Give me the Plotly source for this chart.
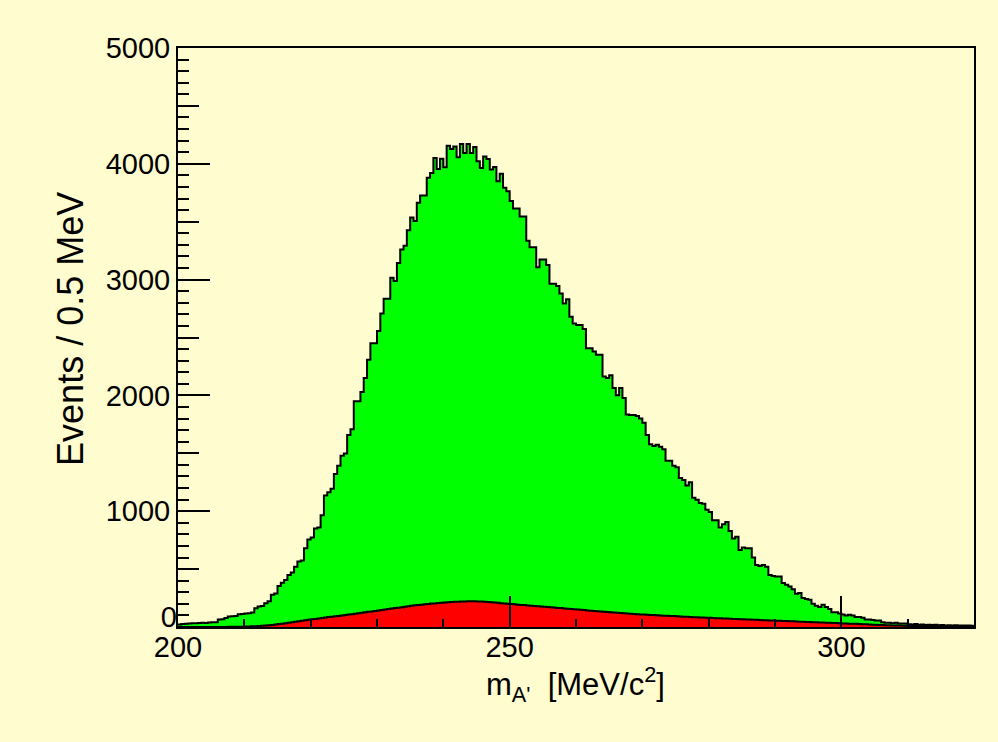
import plotly.graph_objects as go

# ---------------- data ----------------
bin_low = 200.0
bin_width = 0.5

# total (green) histogram, events per 0.5 MeV bin, 200-320 MeV
total = [
    22, 25, 28, 30, 33, 32, 35, 36, 34, 38, 40, 42,
    64, 66, 78, 90, 92, 95, 110, 113, 116, 118, 125, 162,
    178, 182, 205, 222, 278, 290, 355, 382, 405, 450, 470, 520,
    565, 575, 680, 756, 773, 850, 860, 964, 1136, 1164, 1193, 1321,
    1393, 1479, 1498, 1658, 1707, 1950, 1950, 2030, 2150, 2307, 2450, 2450,
    2556, 2707, 2835, 2835, 3015, 2987, 3144, 3259, 3293, 3427, 3536, 3507,
    3664, 3727, 3727, 3879, 3921, 4050, 3956, 4044, 3970, 4155, 4127, 4150,
    4056, 4170, 4093, 4170, 4093, 4144, 4021, 3964, 4064, 4041, 3950, 3973,
    3850, 3915, 3793, 3764, 3679, 3613, 3613, 3544, 3544, 3336, 3279, 3279,
    3107, 3173, 3173, 3127, 2964, 2964, 2944, 2879, 2793, 2830, 2679, 2621,
    2607, 2607, 2573, 2407, 2407, 2379, 2350, 2350, 2164, 2150, 2173, 2064,
    2001, 2064, 1978, 1836, 1830, 1830, 1822, 1801, 1764, 1659, 1579, 1564,
    1573, 1556, 1536, 1436, 1436, 1393, 1379, 1287, 1270, 1221, 1250, 1116,
    1099, 1070, 1064, 1013, 993, 921, 921, 859, 887, 907, 830, 764,
    779, 664, 687, 679, 679, 601, 536, 527, 536, 521, 450, 441,
    436, 436, 379, 364, 350, 327, 287, 293, 250, 242, 236, 201,
    184, 173, 193, 173, 156, 127, 127, 116, 107, 99, 105, 99,
    87, 87, 79, 64, 64, 60, 56, 56, 41, 36, 36, 33,
    36, 30, 30, 30, 24, 22, 25, 20, 22, 18, 20, 17,
    19, 15, 18, 14, 16, 13, 15, 12, 14, 12, 13, 11,
]

# background (red) histogram, events per 0.5 MeV bin
background = [
    0, 0, 0, 0, 0, 0, 0, 0, 0, 0, 0, 0, 1, 1, 1, 2, 2, 2, 3, 3,
    4, 5, 6, 7, 9, 11, 13, 15, 18, 21,
    25, 29, 33, 37, 41, 45, 50, 54, 58, 62,
    66, 70, 74, 78, 82, 86, 89, 93, 96, 99,
    103, 107, 111, 115, 119, 123, 127, 131, 134, 138,
    142, 146, 151, 155, 159, 163, 167, 171, 175, 180,
    184, 187, 190, 193, 196, 199, 202, 204, 207, 209,
    211, 213, 215, 217, 219, 220, 221, 222, 222, 222,
    221, 220, 218, 216, 214, 212, 209, 206, 203, 200,
    198, 196, 193, 191, 189, 186, 184, 182, 179, 177,
    175, 172, 170, 168, 165, 163, 160, 158, 155, 153,
    151, 148, 146, 143, 141, 138, 136, 133, 131, 129,
    127, 125, 123, 121, 119, 117, 115, 113, 111, 109,
    107, 106, 104, 103, 101, 100, 98, 97, 95, 94,
    92, 91, 89, 88, 87, 85, 84, 83, 81, 80,
    79, 78, 76, 75, 74, 73, 71, 70, 69, 68,
    67, 65, 64, 63, 62, 61, 59, 58, 57, 56,
    55, 54, 52, 51, 50, 49, 48, 46, 45, 44,
    43, 42, 41, 39, 38, 37, 36, 35, 34, 33,
    31, 30, 29, 28, 27, 25, 24, 23, 22, 20,
    19, 18, 17, 16, 15, 14, 13, 12, 11, 10,
    9, 8, 8, 7, 6, 6, 5, 5, 4, 4,
    3, 3, 3, 2, 2, 2, 1, 1, 1, 1,
]

x_major_ticks = [200, 250, 300]
x_minor_ticks = [210, 220, 230, 240, 260, 270, 280, 290, 310]
y_major_ticks = [1000, 2000, 3000, 4000, 5000]
y_mid_ticks = [0, 500, 1500, 2500, 3500, 4500]
y_mid_labels = ["0", "", "", "", "", ""]
x_range = [200, 320]
y_range = [0, 5000]

x_title = "m<sub>A'</sub>\u00a0\u00a0[MeV/c<sup>2</sup>]"
y_title = "Events / 0.5 MeV"

# ---------------- figure ----------------
edges = [bin_low + bin_width * i for i in range(len(total) + 1)]
def stepped(vals):
    return list(vals) + [vals[-1]]

BG = "#fffdd0"
FONT = "Liberation Sans, Arial, Helvetica, sans-serif"

fig = go.Figure()
fig.add_trace(go.Scatter(
    x=edges, y=stepped(total), mode="lines", line_shape="hv",
    line=dict(color="black", width=2), fill="tozeroy", fillcolor="#00ff00",
    hoverinfo="skip", showlegend=False))
fig.add_trace(go.Scatter(
    x=edges, y=stepped(background), mode="lines", line_shape="hv",
    line=dict(color="black", width=2), fill="tozeroy", fillcolor="#ff0000",
    hoverinfo="skip", showlegend=False))
# empty trace so the overlay axis (medium ticks and the raised "0") is drawn
fig.add_trace(go.Scatter(x=[None], y=[None], yaxis="y2", mode="lines",
                         hoverinfo="skip", showlegend=False))

tickfont = dict(family=FONT, size=29, color="black")

fig.update_layout(
    width=998, height=742,
    margin=dict(l=178, r=24, t=48, b=115),
    paper_bgcolor=BG, plot_bgcolor=BG,
    showlegend=False,
    xaxis=dict(
        range=x_range, tickmode="array", tickvals=x_major_ticks,
        ticks="inside", ticklen=31, tickwidth=2, tickcolor="black",
        minor=dict(tickmode="array", tickvals=x_minor_ticks, ticks="inside",
                   ticklen=8, tickwidth=2, tickcolor="black", showgrid=False),
        showgrid=False, zeroline=False,
        showline=True, linecolor="black", linewidth=2, mirror=True,
        tickfont=tickfont, layer="above traces", ticklabelstandoff=-7,
    ),
    yaxis=dict(
        range=y_range, tickmode="array", tickvals=y_major_ticks,
        ticks="inside", ticklen=32, tickwidth=2, tickcolor="black",
        minor=dict(dtick=100, tick0=0, ticks="inside", ticklen=11,
                   tickwidth=2, tickcolor="black", showgrid=False),
        showgrid=False, zeroline=False,
        showline=True, linecolor="black", linewidth=2, mirror=True,
        tickfont=tickfont, layer="above traces",
    ),
    yaxis2=dict(
        overlaying="y", side="left", range=y_range, tickmode="array",
        tickvals=y_mid_ticks, ticktext=y_mid_labels, tickfont=tickfont,
        ticklabelshift=-10,
        ticks="inside", ticklen=21, tickwidth=2, tickcolor="black",
        showgrid=False, zeroline=False, showline=False,
        layer="above traces",
    ),
    annotations=[
        dict(text=y_title, xref="paper", yref="paper",
             x=-0.1345, y=0.5147, xanchor="center", yanchor="middle",
             textangle=-90, showarrow=False,
             font=dict(family=FONT, size=36, color="black")),
        dict(text=x_title, xref="paper", yref="paper",
             x=0.4994, y=-0.100, xanchor="center", yanchor="middle",
             showarrow=False,
             font=dict(family=FONT, size=31, color="black")),
    ],
)

fig.write_html("out.html")
